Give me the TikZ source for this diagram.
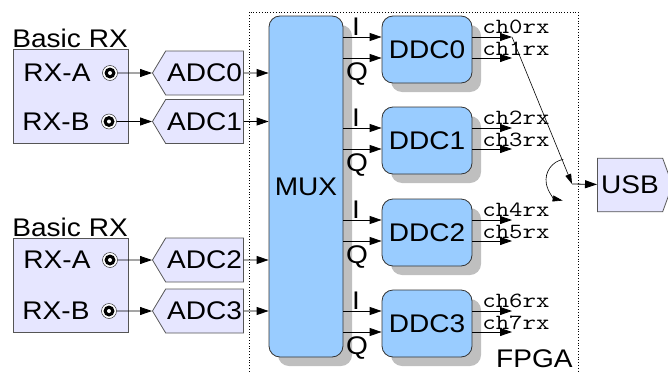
\documentclass[tikz,border=0pt]{standalone}
\usepackage{fontspec}
\setmainfont{Liberation Sans}[FakeStretch=1.1]
\newfontfamily\chfont{Latin Modern Mono}[FakeStretch=1.2]
\usetikzlibrary{arrows.meta,shapes.symbols,shadows}
\definecolor{rxfill}{HTML}{E6E6FF}
\definecolor{ddcfill}{HTML}{99CCFF}
\definecolor{edge}{HTML}{333333}
\definecolor{greyedge}{HTML}{555555}

\begin{document}
\begin{tikzpicture}[x=1pt,y=-1pt,line width=0.8pt,
  >={Triangle[length=12pt,width=8pt]},
  every node/.style={font=\fontsize{25.5}{28}\selectfont,inner sep=0pt},
  rxbox/.style={draw=greyedge,fill=rxfill,minimum width=115pt,minimum height=94pt},
  coax/.style={circle,draw=edge,line width=0.5pt,fill=white,minimum size=15pt,
    path picture={\fill[black] (path picture bounding box.center) circle (5.5pt);
      \fill[white] (path picture bounding box.center) circle (2pt);}},
  adc/.style={signal,signal to=west,signal from=nowhere,signal pointer angle=118,
    draw=greyedge,fill=rxfill,minimum width=91pt,minimum height=44pt,anchor=west},
  blk/.style={draw=edge,fill=ddcfill,rounded corners=11pt,
    drop shadow={shadow xshift=9pt,shadow yshift=-9pt,opacity=1,fill=black!25}},
  ddc/.style={blk,minimum width=90pt,minimum height=67pt},
  ch/.style={anchor=base west,font=\chfont\fontsize{21.7}{24}\selectfont},
  small/.style={-{Triangle[length=10pt,width=6pt]},line width=0.6pt}]
\useasboundingbox (0,0) rectangle (668,372);

\draw[dotted] (249,380) -- (249,12) -- (578,12) -- (578,380);

\node[anchor=base west] (lab1) at (12,47) {Basic RX};
\node[rxbox] (rx1) at (70.5,96) {};
\node (rxa1) at (57,73) {RX-A};
\node (rxb1) at (56,121.5) {RX-B};
\node[coax] (c0) at (110,73) {};
\node[coax] (c1) at (109,121.5) {};

\node[anchor=base west] (lab2) at (12,236) {Basic RX};
\node[rxbox] (rx2) at (70.5,285) {};
\node (rxa2) at (57,260) {RX-A};
\node (rxb2) at (56,311) {RX-B};
\node[coax] (c2) at (110,260) {};
\node[coax] (c3) at (109,311) {};

\node[adc] (adc0) at (152,73) {ADC0};
\node[adc] (adc1) at (152,121.5) {ADC1};
\node[adc] (adc2) at (152,260) {ADC2};
\node[adc] (adc3) at (152,311) {ADC3};

\draw[->] (c0) -- (adc0);
\draw[->] (c1) -- (adc1);
\draw[->] (c2) -- (adc2);
\draw[->] (c3) -- (adc3);

\node[blk,minimum width=74pt,minimum height=341pt] (mux) at (306,186.5) {MUX};

\draw[->] (adc0) -- (adc0 -| mux.west);
\draw[->] (adc1) -- (adc1 -| mux.west);
\draw[->] (adc2) -- (adc2 -| mux.west);
\draw[->] (adc3) -- (adc3 -| mux.west);

\node[ddc] (ddc0) at (427,49.5) {DDC0};
\node[ddc] (ddc1) at (427,140.5) {DDC1};
\node[ddc] (ddc2) at (427,232.5) {DDC2};
\node[ddc] (ddc3) at (427,323.5) {DDC3};

\coordinate (i0) at (ddc0.west |- 0,37);
\coordinate (q0) at (ddc0.west |- 0,58);
\coordinate (i1) at (ddc1.west |- 0,128);
\coordinate (q1) at (ddc1.west |- 0,149);
\coordinate (i2) at (ddc2.west |- 0,220);
\coordinate (q2) at (ddc2.west |- 0,241);
\coordinate (i3) at (ddc3.west |- 0,311);
\coordinate (q3) at (ddc3.west |- 0,332);

\draw[->] (i0 -| mux.east) -- (i0);
\draw[->] (q0 -| mux.east) -- (q0);
\draw[->] (i1 -| mux.east) -- (i1);
\draw[->] (q1 -| mux.east) -- (q1);
\draw[->] (i2 -| mux.east) -- (i2);
\draw[->] (q2 -| mux.east) -- (q2);
\draw[->] (i3 -| mux.east) -- (i3);
\draw[->] (q3 -| mux.east) -- (q3);

\node[anchor=base] (li0) at (356,35) {I};
\node[anchor=north] (lq0) at (357,62.5) {Q};
\node[anchor=base] (li1) at (356,126) {I};
\node[anchor=north] (lq1) at (357,153.5) {Q};
\node[anchor=base] (li2) at (356,218) {I};
\node[anchor=north] (lq2) at (357,245.5) {Q};
\node[anchor=base] (li3) at (356,309) {I};
\node[anchor=north] (lq3) at (357,336.5) {Q};

\coordinate (ch0) at (512,37);
\coordinate (ch1) at (512,58);
\coordinate (ch2) at (512,128);
\coordinate (ch3) at (512,149);
\coordinate (ch4) at (512,220);
\coordinate (ch5) at (512,241);
\coordinate (ch6) at (512,311);
\coordinate (ch7) at (512,332);

\draw[->] (ch0 -| ddc0.east) -- (ch0);
\draw[->] (ch1 -| ddc0.east) -- (ch1);
\draw[->] (ch2 -| ddc1.east) -- (ch2);
\draw[->] (ch3 -| ddc1.east) -- (ch3);
\draw[->] (ch4 -| ddc2.east) -- (ch4);
\draw[->] (ch5 -| ddc2.east) -- (ch5);
\draw[->] (ch6 -| ddc3.east) -- (ch6);
\draw[->] (ch7 -| ddc3.east) -- (ch7);

\node[ch] (lch0) at (482,33.5) {ch0rx};
\node[ch] (lch1) at (482,55) {ch1rx};
\node[ch] (lch2) at (482,124.5) {ch2rx};
\node[ch] (lch3) at (482,146) {ch3rx};
\node[ch] (lch4) at (482,216.5) {ch4rx};
\node[ch] (lch5) at (482,238) {ch5rx};
\node[ch] (lch6) at (482,307.5) {ch6rx};
\node[ch] (lch7) at (482,329) {ch7rx};

\node[signal,signal to=east,signal from=nowhere,signal pointer angle=140,
  draw=greyedge,fill=rxfill,minimum width=75pt,minimum height=53.5pt,anchor=west] (usb) at (597,185) {USB};

\coordinate (sw) at (572,184);
\coordinate (rot) at (567,180);
\draw[small] (ch0) -- (sw);
\draw[->] (sw) -- (usb);
\draw[small] ([shift={(100:21pt)}]rot) arc[start angle=100,end angle=258,radius=21pt];

\node[anchor=base east] (fpga) at (573,367) {FPGA};
\end{tikzpicture}
\end{document}
